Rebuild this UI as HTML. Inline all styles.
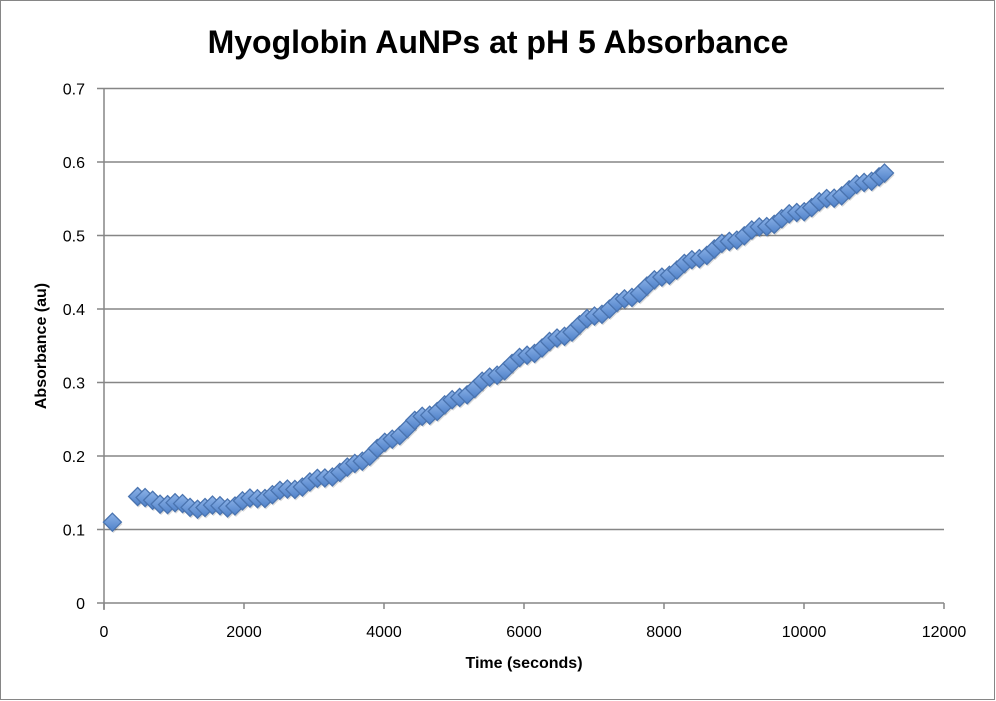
<!DOCTYPE html>
<html><head><meta charset="utf-8"><style>
body{margin:0;background:#fff;}
svg{display:block;font-family:"Liberation Sans",sans-serif;}
</style></head><body>
<svg id="s" width="996" height="701" viewBox="0 0 996 701">
<defs>
<linearGradient id="g" x1="0" y1="0" x2="0" y2="1">
<stop offset="0" stop-color="#8db3e8"/><stop offset="1" stop-color="#4f81c9"/>
</linearGradient>
</defs>
<rect x="0.5" y="0.5" width="994" height="699" fill="#fff" stroke="#868686"/>
<text x="498" y="53" text-anchor="middle" font-size="32" font-weight="bold" fill="#000">Myoglobin AuNPs at pH 5 Absorbance</text>
<g id="grid" stroke="#868686" stroke-width="1.5"></g>
<g id="lab" font-size="16" fill="#000"></g>
<text x="524" y="668" text-anchor="middle" font-size="16" font-weight="bold">Time (seconds)</text>
<text transform="translate(46,346) rotate(-90)" text-anchor="middle" font-size="16" font-weight="bold">Absorbance (au)</text>
<g id="pts"></g>
</svg>
<script>
var ns="http://www.w3.org/2000/svg";
function el(p,t,a,txt){var e=document.createElementNS(ns,t);for(var k in a)e.setAttribute(k,a[k]);if(txt!=null)e.textContent=txt;document.getElementById(p).appendChild(e);}
var X=function(t){return 104+t*0.07;},Y=function(v){return 603-v*735;};
for(var i=0;i<=7;i++){var y=Y(i/10);el("grid","line",{x1:97,x2:944,y1:y,y2:y});el("lab","text",{x:85,y:y+6,"text-anchor":"end"},i==0?"0":(i/10).toString());}
el("grid","line",{x1:104,x2:104,y1:88,y2:610});
for(var i=0;i<=6;i++){var x=X(i*2000);el("grid","line",{x1:x,x2:x,y1:603,y2:609});el("lab","text",{x:x,y:637,"text-anchor":"middle"},String(i*2000));}
var k=[[480,.145],[600,.14],[800,.137],[1000,.135],[1200,.131],[1500,.130],[1800,.132],[2000,.138],[2500,.150],[3000,.165],[3500,.183],[4000,.215],[4500,.25],[5000,.275],[5500,.305],[6000,.335],[6500,.36],[7000,.39],[7500,.415],[8000,.445],[8500,.47],[9000,.495],[9500,.515],[10000,.535],[10500,.555],[11150,.585]];
function f(t){for(var i=0;i<k.length-1;i++){if(t<=k[i+1][0]){var a=k[i],b=k[i+1];return a[1]+(b[1]-a[1])*(t-a[0])/(b[0]-a[0]);}}return k[k.length-1][1];}
var P=[[120,.11]];
for(var t=480;t<=11150;t+=107){P.push([t,f(t)+0.003*Math.sin(t*0.013)]);}
P.push([11150,.585]);
P.forEach(function(p){var x=X(p[0]),y=Y(p[1]);
el("pts","path",{d:"M"+(x+1)+" "+(y-7)+"l9 9-9 9-9-9z",fill:"#000",opacity:.15});
el("pts","path",{d:"M"+x+" "+(y-9)+"l9 9-9 9-9-9z",fill:"url(#g)",stroke:"#4a74b0","stroke-width":1.3});});
</script>
</body></html>
